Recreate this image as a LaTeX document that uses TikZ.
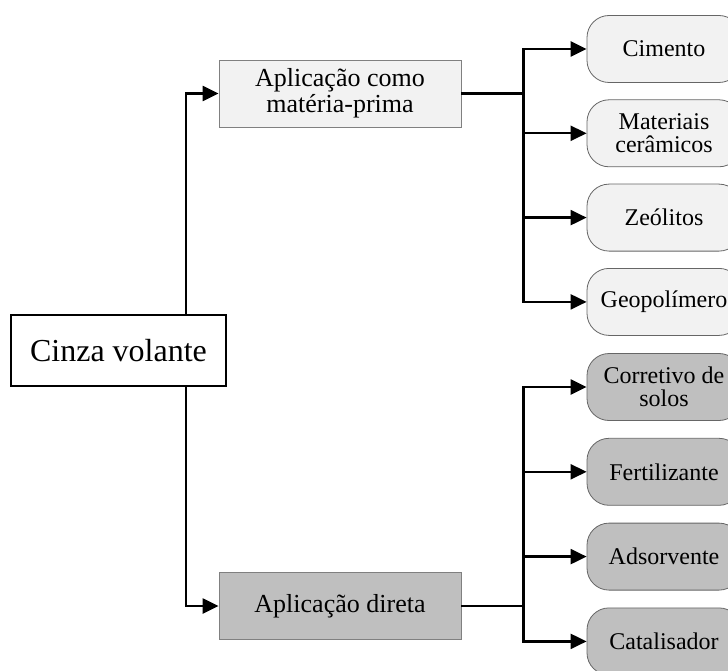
\documentclass[tikz,border=0pt]{standalone}
\usepackage{fontspec}
\setmainfont{Liberation Serif}
\usepackage{tikz}
\usetikzlibrary{calc}
\usetikzlibrary{arrows.meta}
\definecolor{matfill}{HTML}{F2F2F2}
\definecolor{dirfill}{HTML}{BFBFBF}

\begin{document}
\begin{tikzpicture} [x=1pt, y=-1pt,
  rootbox/.style={draw=black, line width=2.2pt, fill=white, inner sep=0pt, minimum width=215pt, minimum height=71pt, font=\fontsize{32}{34}\selectfont},
  appbox/.style={draw=gray, line width=0.8pt, align=center, inner sep=0pt, minimum width=242pt, minimum height=67pt, font=\fontsize{26}{26}\selectfont},
  usebox/.style={draw=black!60, line width=0.8pt, rounded corners=22pt, align=center, inner sep=0pt, minimum width=154pt, minimum height=67pt, font=\fontsize{24}{23}\selectfont},
  link/.style={line width=2.3pt},
  arr/.style={link, -{Triangle[length=16pt,width=15pt]}}]
\useasboundingbox (0,0) rectangle (728,671);
\node[rootbox] (root) at (118.5,350.5) {Cinza volante};
\node[appbox, fill=matfill] (mat) at (340,93.5) {Aplicação como\\matéria-prima};
\node[appbox, fill=dirfill] (dir) at (340,606) {Aplicação direta};
\draw[arr] ([xshift=67.5pt]root.north) |- (mat.west);
\draw[arr] ([xshift=67.5pt]root.south) |- (dir.west);
% materia-prima
\foreach \t [count=\i] in {Cimento, {Materiais\\cerâmicos}, Zeólitos, Geopolímero}
  \node[usebox, fill=matfill] (m\i) at (664,{49+84.3*(\i-1)}) {\t};
\coordinate (mb) at (523.5,93.5);
\draw[link] (mat.east) -- (mb);
\foreach \i in {1,...,4} \draw[arr] (mb) |- (m\i.west);
% direta
\foreach \t [count=\i] in {{Corretivo de\\solos}, Fertilizante, Adsorvente, Catalisador}
  \node[usebox, fill=dirfill] (d\i) at (664,{387+84.8*(\i-1)}) {\t};
\coordinate (db) at (523.5,606);
\draw[link] (dir.east) -- (db);
\foreach \i in {1,...,4} \draw[arr] (db) |- (d\i.west);
\end{tikzpicture}
\end{document}
